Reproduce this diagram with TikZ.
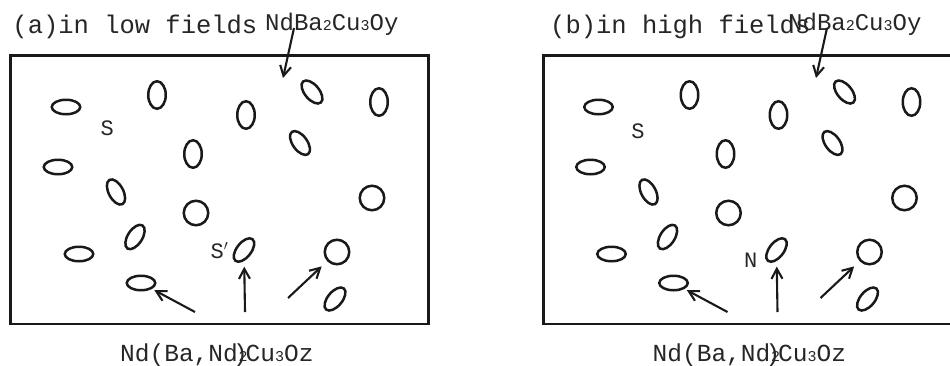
\documentclass[tikz,border=0pt]{standalone}
\usepackage{fontspec}
\newfontfamily\monofont{Liberation Mono}
\usetikzlibrary{shapes.geometric,arrows.meta}

\newcommand\titlefont{\monofont\fontsize{25.5}{28}\selectfont}
\newcommand\phasefont{\monofont\fontsize{24}{26}\selectfont}
\newcommand\bottomfont{\monofont\fontsize{24.5}{26}\selectfont}
\newcommand\letterfont{\monofont\fontsize{22}{24}\selectfont}
\newcommand\subdigit[1]{{\fontsize{15}{15}\selectfont #1}}

\tikzset{
  ink/.style={color=black!90},
  frame/.style={draw, ink, rectangle, line width=2.6pt, inner sep=0pt, outer sep=0pt},
  grain/.style={draw, ink, ellipse, line width=2.5pt, inner sep=0pt, outer sep=0pt},
  grainh/.style={grain, minimum width=28.5pt, minimum height=14.5pt},
  grainv/.style={grain, minimum width=17.5pt, minimum height=27.5pt},
  graint/.style={grain, minimum width=27.5pt, minimum height=14.5pt, rotate=#1},
  grainc/.style={grain, minimum width=24.5pt, minimum height=24.5pt},
  arr/.style={ink, line width=2.1pt, -{Straight Barb[length=10pt,width=11pt]}},
  titletext/.style={anchor=base west, inner sep=0pt, text=black!85, font=\titlefont},
  phasetext/.style={anchor=base west, inner sep=0pt, text=black!85, font=\phasefont},
  bottomtext/.style={anchor=base west, inner sep=0pt, text=black!85, font=\bottomfont},
  lettertext/.style={anchor=base west, inner sep=0pt, text=black!85, font=\letterfont},
}

% One cross-section: frame, grains, arrows to three grains and the phase label below.
\newcommand\grainfield[1]{%
  \node[frame, minimum width=417.5pt, minimum height=268.7pt] (#1box) at (219.45,189.65) {};
  \node[grainh]      (#1g1)  at (66,107)  {};
  \node[grainv]      (#1g2)  at (157,95)  {};
  \node[grainh]      (#1g4)  at (58,167)  {};
  \node[grainv]      (#1g5)  at (193,154) {};
  \node[graint=-62]  (#1g6)  at (116,192) {};
  \node[grainc]      (#1g7)  at (196,213) {};
  \node[grainv]      (#1g8)  at (246,115) {};
  \node[graint=-50]  (#1g9)  at (312,92)  {};
  \node[grainv]      (#1g10) at (379,102) {};
  \node[graint=-54]  (#1g11) at (300,143) {};
  \node[grainc]      (#1g12) at (372,198) {};
  \node[graint=57]   (#1g13) at (135,237) {};
  \node[grainh]      (#1g14) at (79,254)  {};
  \node[grainh]      (#1g15) at (141,283) {};
  \node[graint=52]   (#1g16) at (244,250) {};
  \node[grainc]      (#1g17) at (337,252) {};
  \node[graint=50]   (#1g18) at (335,299) {};
  \coordinate (#1ta) at (195,312);
  \coordinate (#1tb) at (245,312);
  \coordinate (#1tc) at (288,298);
  \draw[arr, shorten >=4pt]   (#1ta) -- (#1g15);
  \draw[arr, shorten >=7pt]   (#1tb) -- (#1g16);
  \draw[arr, shorten >=8.8pt] (#1tc) -- (#1g17);
  \node[bottomtext] (#1phase) at (120,361)
    {Nd(Ba,Nd\kern-4.6pt\rlap{)}\kern5.5pt\subdigit{2}\kern-2pt Cu\subdigit{3}Oz};
}

\begin{document}
\begin{tikzpicture}[x=1pt, y=-1pt]
\useasboundingbox (0,0) rectangle (950,365);
\clip (0,0) rectangle (950,365);

% (a) low fields
\begin{scope}
  \grainfield{a}
  \node[titletext] (atitle) at (12.3,33) {(a)in low fields};
  \node[phasetext] (amatrix) at (265,30) {NdBa\subdigit{2}Cu\subdigit{3}Oy};
  \coordinate (amtip) at (283,78);
  \draw[arr] ([xshift=29pt,yshift=2pt]amatrix.base west) -- (amtip);
  \node[lettertext] (as)  at (100.5,135) {S};
  \node[lettertext] (asp) at (210.5,258) {S$'$};
\end{scope}

% (b) high fields
\begin{scope}[xshift=532.5pt]
  \grainfield{b}
  \node[titletext] (btitle) at (17.5,33) {(b)in high fields};
  \node[phasetext] (bmatrix) at (255.5,30) {NdBa\subdigit{2}Cu\subdigit{3}Oy};
  \coordinate (bmtip) at (283.5,78);
  \draw[arr] ([xshift=39pt,yshift=2pt]bmatrix.base west) -- (bmtip);
  \node[lettertext] (bs) at (98.7,138) {S};
  \node[lettertext] (bn) at (211.5,267) {N};
\end{scope}
\end{tikzpicture}
\end{document}
